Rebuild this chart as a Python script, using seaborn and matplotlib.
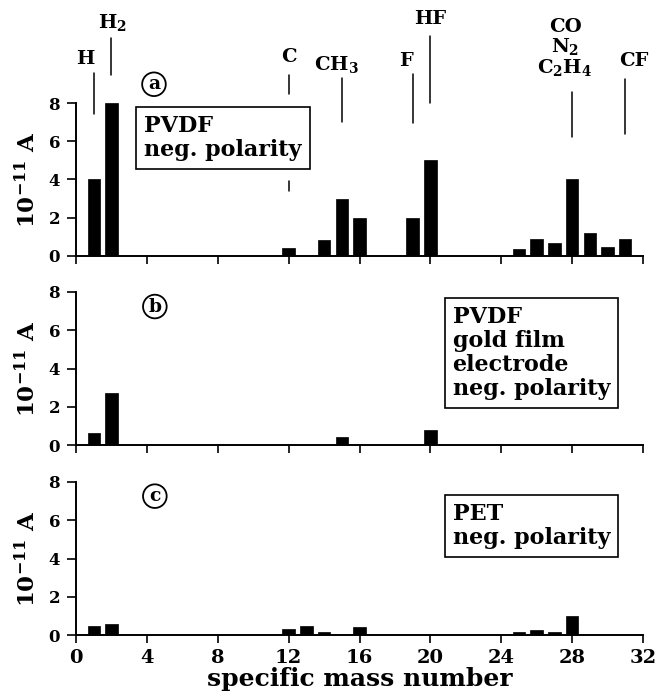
import matplotlib
matplotlib.use("Agg")
import matplotlib.pyplot as plt
import seaborn as sns
import pandas as pd

# ---- data ----
mass_a = [1, 2, 12, 14, 15, 16, 19, 20, 25, 26, 27, 28, 29, 30, 31]
curr_a = [4.0, 8.0, 0.4, 0.84, 3.0, 2.0, 2.0, 5.0, 0.37, 0.88, 0.67, 4.0, 1.19, 0.49, 0.89]

mass_b = [1, 2, 15, 20]
curr_b = [0.64, 2.7, 0.43, 0.78]

mass_c = [1, 2, 12, 13, 14, 16, 25, 26, 27, 28]
curr_c = [0.49, 0.58, 0.3, 0.47, 0.18, 0.44, 0.18, 0.26, 0.18, 0.97]

panel_letters = ["a", "b", "c"]
panel_notes = ["PVDF\nneg. polarity",
               "PVDF\ngold film\nelectrode\nneg. polarity",
               "PET\nneg. polarity"]
x_ticks = [0, 4, 8, 12, 16, 20, 24, 28, 32]
y_ticks = [0, 2, 4, 6, 8]
x_label = "specific mass number"
y_label = "$10^{-11}$ A"

species = ["H", "H$_2$", "C", "CH$_3$", "F", "HF", "CO\nN$_2$\nC$_2$H$_4$", "CF"]
species_mass = [1, 2, 12, 15, 19, 20, 28, 31]

# ---- style ----
sns.set_theme(style="ticks")
plt.rcParams["font.family"] = ["DejaVu Serif"]
plt.rcParams["font.weight"] = "bold"
plt.rcParams["mathtext.fontset"] = "dejavuserif"
plt.rcParams["mathtext.default"] = "bf"
plt.rcParams["text.color"] = "black"
plt.rcParams["axes.labelcolor"] = "black"
plt.rcParams["xtick.color"] = "black"
plt.rcParams["ytick.color"] = "black"

fig = plt.figure(figsize=(6.63, 6.98), dpi=100)
L = 76 / 663
W = 567 / 663
H = 153 / 698
bottoms = [1 - 256 / 698, 1 - 445 / 698, 1 - 635 / 698]
axes = [fig.add_axes([L, b, W, H]) for b in bottoms]

datasets = [(mass_a, curr_a), (mass_b, curr_b), (mass_c, curr_c)]
for i, (ax, (m, c)) in enumerate(zip(axes, datasets)):
    df = pd.DataFrame({"mass": m, "current": c})
    sns.barplot(data=df, x="mass", y="current", native_scale=True, width=0.7,
                color="black", edgecolor="black", linewidth=0.5, ax=ax,
                saturation=1)
    ax.set_xlim(0, 32)
    ax.set_ylim(0, 8)
    ax.set_xticks(x_ticks)
    ax.set_yticks(y_ticks)
    ax.set_facecolor("none")
    for s in ["top", "right"]:
        ax.spines[s].set_visible(False)
    for s in ["left", "bottom"]:
        ax.spines[s].set_linewidth(1.4)
        ax.spines[s].set_color("black")
    ax.tick_params(axis="y", direction="out", length=6.5, width=1.2, pad=5,
                   labelsize=12, colors="black", labelcolor="black")
    ax.tick_params(axis="x", direction="out", length=6, width=1.2, pad=4,
                   labelsize=14, colors="black", labelcolor="black")
    ax.set_ylabel(y_label, fontsize=16.5, fontweight="bold", labelpad=6,
                  color="black")
    if i < 2:
        ax.set_xticklabels([])
        ax.set_xlabel("")
    else:
        ax.set_xlabel(x_label, fontsize=18, fontweight="bold", labelpad=0,
                      color="black")

# circled panel letters
circle_pos = [(4.4, 8.98), (4.45, 7.24), (4.45, 7.26)]
for ax, let, (cx, cy) in zip(axes, panel_letters, circle_pos):
    ax.text(cx, cy, let, ha="center", va="center", fontsize=13.5,
            fontweight="bold", clip_on=False, color="black",
            bbox=dict(boxstyle="circle,pad=0.15", fc="white", ec="black", lw=1.3))

# note boxes
note_pos = [(3.85, 7.38), (21.25, 7.25), (21.25, 6.88)]
for ax, note, (nx, ny) in zip(axes, panel_notes, note_pos):
    ax.text(nx, ny, note, ha="left", va="top", fontsize=16, fontweight="bold",
            linespacing=1.12, clip_on=False, color="black",
            bbox=dict(boxstyle="square,pad=0.36", fc="white", ec="black", lw=1.2))

# species labels in panel a
ax = axes[0]
label_xy = [(0.55, 10.3), (2.05, 12.2), (12.0, 10.4), (14.7, 10.0),
            (18.6, 10.2), (20.0, 12.4), (27.6, 10.9), (31.5, 10.2)]
line_y = [(7.4, 9.56), (9.46, 11.4), (8.46, 9.46), (7.0, 9.33),
          (6.97, 9.5), (8.0, 11.5), (6.23, 8.55), (6.39, 9.28)]
for sp, mx, (tx, ty), (y0, y1) in zip(species, species_mass, label_xy, line_y):
    ax.text(tx, ty, sp, ha="center", va="center", fontsize=14,
            fontweight="bold", linespacing=1.0, clip_on=False, color="black")
    ax.plot([mx, mx], [y0, y1], color="black", lw=1.1, clip_on=False)
# small dash below the box on the C line
ax.plot([12, 12], [3.38, 3.9], color="black", lw=1.1, clip_on=False)

fig.savefig("out.png", dpi=100)
